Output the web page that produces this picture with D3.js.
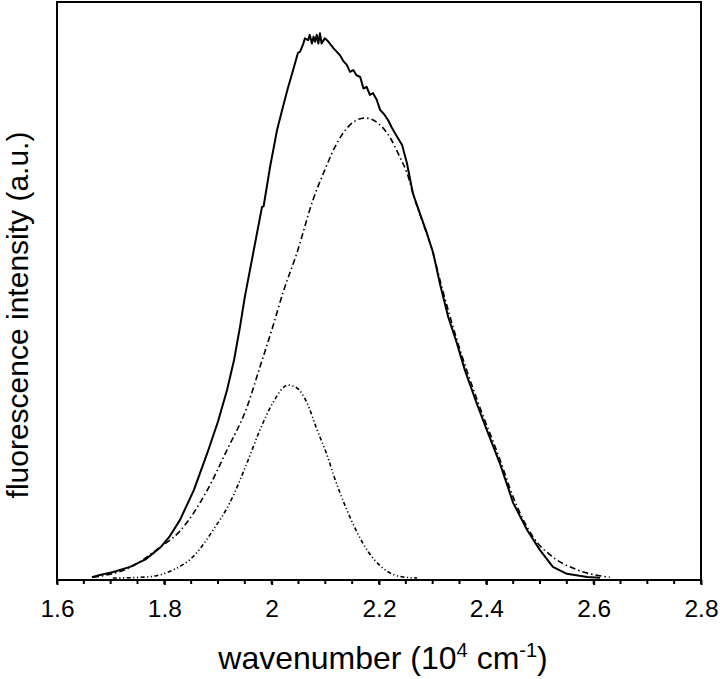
<!DOCTYPE html>
<html>
<head>
<meta charset="utf-8">
<script src="https://cdn.jsdelivr.net/npm/d3@7"></script>
<style>
  html, body { margin: 0; padding: 0; background: #fff; }
  svg { display: block; font-family: Arial, "Liberation Sans", sans-serif; }
</style>
</head>
<body>
<div id="chart"></div>
<script>
// wavenumber (10^4 cm^-1) vs fluorescence intensity (a.u., 0-100 scale)
const measured = [
  [1.665, 0.3], [1.680, 0.7], [1.705, 1.2], [1.736, 2.1], [1.765, 3.4], [1.792, 5.4],
  [1.810, 7.4], [1.829, 10.2], [1.855, 15.4], [1.880, 21.8], [1.900, 27.3], [1.917, 32.8],
  [1.930, 38.0], [1.941, 43.7], [1.950, 48.9], [1.965, 56.2], [1.982, 64.5], [1.985, 64.6],
  [1.997, 71.4], [2.010, 77.8], [2.021, 81.8], [2.030, 85.0], [2.040, 88.2], [2.049, 91.2],
  [2.053, 91.4], [2.059, 92.8], [2.062, 93.7], [2.068, 93.4], [2.071, 94.3], [2.075, 92.8],
  [2.078, 94.0], [2.081, 93.1], [2.084, 94.3], [2.087, 92.8], [2.090, 94.6], [2.093, 92.8],
  [2.099, 93.7], [2.106, 93.1], [2.115, 92.0], [2.121, 91.4], [2.127, 90.8], [2.134, 89.7],
  [2.140, 89.1], [2.146, 87.9], [2.152, 88.2], [2.158, 87.3], [2.165, 87.0], [2.171, 85.0],
  [2.177, 85.3], [2.183, 83.9], [2.189, 84.2], [2.196, 83.0], [2.202, 81.3], [2.210, 80.5],
  [2.217, 79.5], [2.224, 78.2], [2.234, 76.6], [2.243, 75.2], [2.252, 72.1], [2.263, 66.9],
  [2.276, 63.4], [2.289, 60.0], [2.301, 56.5], [2.314, 51.0], [2.329, 45.4], [2.345, 40.9],
  [2.360, 36.2], [2.383, 30.2], [2.401, 25.8], [2.425, 20.1], [2.450, 13.2], [2.476, 8.5],
  [2.500, 5.0], [2.524, 2.1], [2.550, 0.9], [2.588, 0.35], [2.612, 0.2]
];

const band1 = [
  [1.667, 0.3], [1.736, 2.0], [1.792, 5.5], [1.829, 8.3], [1.880, 15.4], [1.917, 22.4],
  [1.954, 29.8], [1.978, 36.7], [2.002, 43.7], [2.021, 49.6], [2.047, 56.5], [2.077, 65.7],
  [2.099, 70.9], [2.122, 75.6], [2.146, 78.7], [2.174, 79.9], [2.198, 79.0], [2.220, 76.6],
  [2.239, 73.1], [2.252, 70.4], [2.267, 65.7], [2.282, 61.7], [2.299, 57.0], [2.317, 50.6],
  [2.345, 41.5], [2.383, 31.0], [2.425, 20.8], [2.450, 14.2], [2.487, 7.3], [2.524, 3.8],
  [2.569, 1.6], [2.630, 0.3]
];

const band2 = [
  [1.704, 0.17], [1.768, 0.35], [1.816, 1.56], [1.853, 3.81], [1.891, 8.49], [1.922, 13.2],
  [1.954, 20.1], [1.978, 25.8], [2.002, 30.5], [2.030, 33.6], [2.047, 33.1], [2.066, 30.5],
  [2.084, 26.0], [2.105, 21.0], [2.114, 18.4], [2.140, 12.0], [2.178, 5.0], [2.207, 1.9],
  [2.245, 0.35], [2.271, 0.17]
];

const xTicks = [1.6, 1.8, 2.0, 2.2, 2.4, 2.6, 2.8];
const xMinorTicks = d3.range(1.6, 2.8001, 0.05);

const WIDTH = 720, HEIGHT = 679;
const box = { left: 57, right: 701, top: 2, bottom: 580 };

const svg = d3.select("#chart").append("svg")
    .attr("width", WIDTH)
    .attr("height", HEIGHT);

const xScale = d3.scaleLinear().domain([1.6, 2.8]).range([box.left, box.right]);
const yScale = d3.scaleLinear().domain([0, 100]).range([box.bottom - 1, box.top]);

const line = d3.line()
    .x(d => xScale(d[0]))
    .y(d => yScale(d[1]));
const smooth = d3.line()
    .curve(d3.curveMonotoneX)
    .x(d => xScale(d[0]))
    .y(d => yScale(d[1]));

svg.append("path")
    .attr("d", smooth(band2))
    .attr("fill", "none")
    .attr("stroke", "#000")
    .attr("stroke-width", 1.6)
    .attr("stroke-dasharray", "4,2.5,1.2,2.5,1.2,2.5");

svg.append("path")
    .attr("d", smooth(band1))
    .attr("fill", "none")
    .attr("stroke", "#000")
    .attr("stroke-width", 1.6)
    .attr("stroke-dasharray", "6,3,1.5,3");

svg.append("path")
    .attr("d", line(measured))
    .attr("fill", "none")
    .attr("stroke", "#000")
    .attr("stroke-width", 2)
    .attr("stroke-linejoin", "round");

// frame
svg.append("rect")
    .attr("x", box.left).attr("y", box.top)
    .attr("width", box.right - box.left)
    .attr("height", box.bottom - box.top)
    .attr("fill", "none")
    .attr("stroke", "#000")
    .attr("stroke-width", 2);

// x axis: minor + major ticks pointing outward
const xAxisG = svg.append("g").attr("transform", `translate(0,${box.bottom})`);
xAxisG.selectAll(".minor")
    .data(xMinorTicks)
    .join("line")
    .attr("class", "minor")
    .attr("x1", d => xScale(d)).attr("x2", d => xScale(d))
    .attr("y1", 0).attr("y2", 4)
    .attr("stroke", "#000").attr("stroke-width", 2);

xAxisG.call(d3.axisBottom(xScale).tickValues(xTicks).tickSize(5).tickFormat(d3.format("~g")))
    .call(g => g.select(".domain").remove())
    .call(g => g.selectAll(".tick line").attr("stroke-width", 2))
    .call(g => g.selectAll(".tick text")
        .attr("y", 20)
        .attr("font-size", 24.5)
        .attr("font-family", "Arial, 'Liberation Sans', sans-serif")
        .attr("fill", "#000"));

svg.append("text")
    .attr("x", 383)
    .attr("y", 669)
    .attr("text-anchor", "middle")
    .attr("font-size", 32)
    .attr("fill", "#000")
    .call(t => {
        t.append("tspan").text("wavenumber (10");
        t.append("tspan").attr("font-size", 20).attr("dy", -12).text("4");
        t.append("tspan").attr("dy", 12).text(" cm");
        t.append("tspan").attr("font-size", 20).attr("dy", -12).text("-1");
        t.append("tspan").attr("dy", 12).text(")");
    });

svg.append("text")
    .attr("transform", "translate(28,315) rotate(-90)")
    .attr("text-anchor", "middle")
    .attr("font-size", 30)
    .attr("fill", "#000")
    .text("fluorescence intensity (a.u.)");
</script>
</body>
</html>
